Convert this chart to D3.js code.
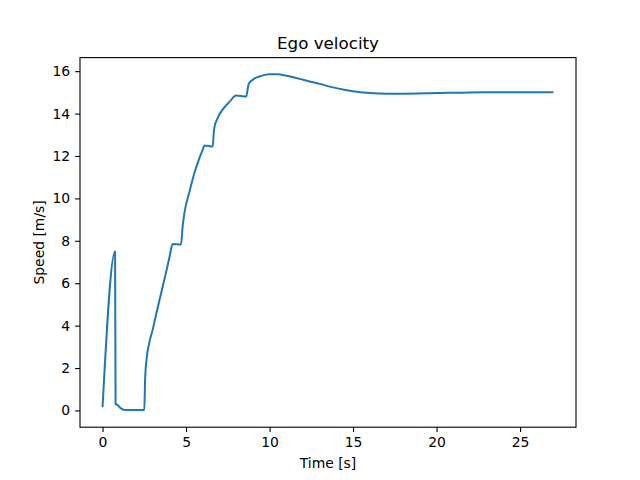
<!DOCTYPE html>
<html><head><meta charset="utf-8">
<script src="https://cdn.jsdelivr.net/npm/d3@7"></script>
<style>body{margin:0;background:#fff}text{font-family:"DejaVu Sans",sans-serif}</style>
</head><body>
<svg id="c" width="640" height="480"></svg>
<script>
// time [s] and speed [m/s]
var times = [0,0.75,0.78,0.85,1.1,1.4,2.5,2.55,2.65,2.8,3.0,3.2,3.5,3.8,4.0,4.2,4.7,4.8,4.9,5.2,5.5,5.8,6.0,6.1,6.6,6.65,6.7,6.9,7.2,7.6,8.0,8.6,8.7,8.75,9.0,9.5,10,10.5,11,12,13,14,15,16,17,18,20,22,25,27];
var speeds = [0.15,7.5,0.3,0.28,0.1,0.02,0.02,1.5,2.5,3.2,3.8,4.5,5.5,6.5,7.2,7.85,7.83,8.7,9.3,10.3,11.2,11.9,12.3,12.5,12.45,13.0,13.35,13.8,14.2,14.55,14.85,14.8,15.2,15.4,15.6,15.78,15.85,15.85,15.78,15.6,15.4,15.2,15.05,14.97,14.94,14.94,14.97,15.0,15.01,15.01];
var xTicks = [0,5,10,15,20,25];
var yTicks = [0,2,4,6,8,10,12,14,16];

var svg = d3.select("#c");
var L = 80, R = 576, T = 57.6, B = 427.2;
var x = d3.scaleLinear().domain([-1.35, 28.35]).range([L, R]);
var y = d3.scaleLinear().domain([-0.79, 16.64]).range([B, T]);

svg.append("g").attr("transform", "translate(0," + B + ")")
  .call(d3.axisBottom(x).tickValues(xTicks).tickSize(4.9).tickPadding(4.9).tickSizeOuter(0));
svg.append("g").attr("transform", "translate(" + L + ",0)")
  .call(d3.axisLeft(y).tickValues(yTicks).tickSize(4.9).tickPadding(4.9).tickSizeOuter(0));
svg.selectAll(".domain").remove();
svg.selectAll(".tick text").attr("font-size", 13.9).attr("fill", "#000");
svg.selectAll(".tick line").attr("stroke", "#000").attr("stroke-width", 1.1);

svg.append("rect").attr("x", L).attr("y", T).attr("width", R - L).attr("height", B - T)
  .attr("fill", "none").attr("stroke", "#000").attr("stroke-width", 1.1);

var line = d3.line().curve(d3.curveMonotoneX).x(function(d, i){ return x(times[i]); }).y(function(d){ return y(d); });
svg.append("path").datum(speeds).attr("d", line)
  .attr("fill", "none").attr("stroke", "#1f77b4").attr("stroke-width", 2).attr("stroke-linejoin", "round");

svg.append("text").attr("x", (L + R) / 2).attr("y", 49).attr("text-anchor", "middle").attr("font-size", 16.7).text("Ego velocity");
svg.append("text").attr("x", (L + R) / 2).attr("y", 468).attr("text-anchor", "middle").attr("font-size", 13.9).text("Time [s]");
svg.append("text").attr("transform", "translate(44," + (T + B) / 2 + ") rotate(-90)")
  .attr("text-anchor", "middle").attr("font-size", 13.9).text("Speed [m/s]");
</script>
</body></html>
